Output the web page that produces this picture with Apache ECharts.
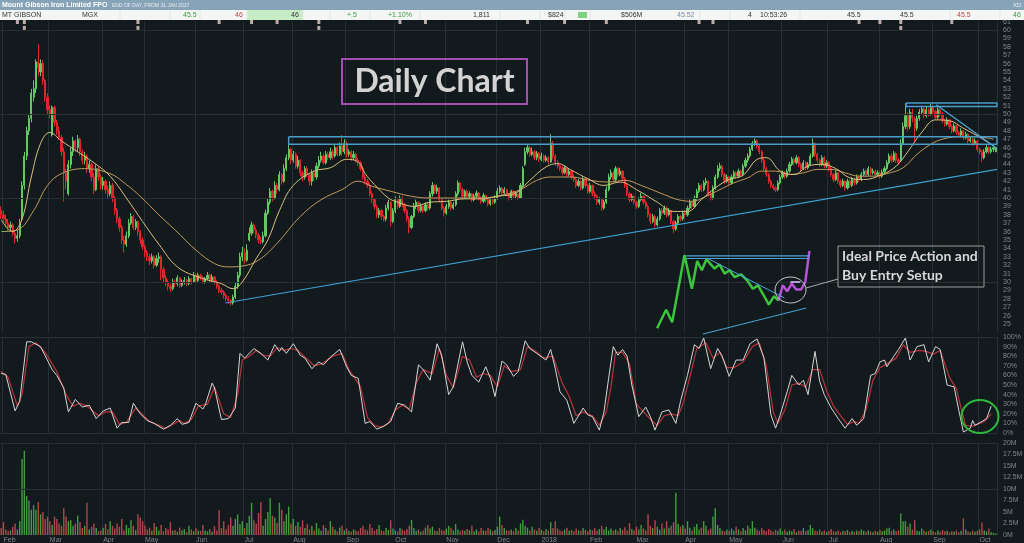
<!DOCTYPE html>
<html><head><meta charset="utf-8">
<script src="https://cdn.jsdelivr.net/npm/echarts@6/dist/echarts.min.js"></script>
<style>html,body{margin:0;padding:0;background:#131a1d;}#c{width:1024px;height:543px;}</style>
</head><body><div id="c"></div>
<script>
// ---------- axis / tick data ----------
const monthStarts = [1,21,44,62,84,105,126,149,170,192,214,233,254,274,295,314,337,357,379,402,422];
const monthLabels = ['Feb','Mar','Apr','May','Jun','Jul','Aug','Sep','Oct','Nov','Dec','2018','Feb','Mar','Apr','May','Jun','Jul','Aug','Sep','Oct'];
const priceGridLevels = [30,40,50,60];
const volumeGridLevels = [10,20];
const stochGridLevels = [0,100];

// ---------- daily candles [open, close, low, high] (cents) ----------
const candles = [
[38.5,38.0,37.5,39.0],[38.0,37.5,37.0,38.5],[37.5,37.0,36.5,38.0],[37.0,36.5,36.0,37.5],[36.5,36.8,36.0,37.2],[36.8,35.8,35.5,37.0],[35.8,35.2,34.6,36.0],[35.2,35.5,34.8,36.2],[35.5,37.0,35.2,37.5],[37.5,41.5,37.2,42.0],
[41.5,45.0,41.0,45.5],[45.0,48.0,44.5,48.5],[48.0,49.5,47.5,50.0],[49.5,52.5,49.0,53.0],[52.0,53.0,51.5,54.0],[53.0,56.2,52.5,56.5],[56.2,55.5,54.5,58.3],[55.0,56.0,54.5,56.5],[56.0,54.0,53.5,56.4],[54.0,52.0,51.5,54.2],
[52.0,50.5,50.0,52.5],[50.5,50.0,49.5,51.0],[47.5,50.8,47.3,51.0],[50.8,49.0,48.5,51.0],[49.0,48.0,47.5,49.3],[48.0,47.2,46.9,48.5],[47.2,45.5,45.0,47.5],[45.5,43.0,39.6,46.0],[43.0,42.0,41.0,43.5],[40.5,44.0,40.3,44.5],
[44.0,45.5,43.5,46.0],[45.5,46.8,45.0,47.3],[46.8,46.0,45.5,47.0],[46.0,47.0,45.5,47.5],[47.0,45.5,45.0,47.2],[45.5,44.5,44.0,45.8],[44.5,45.0,44.0,45.5],[45.0,43.5,43.0,45.2],[43.5,44.0,43.0,44.5],[44.0,42.5,42.0,44.2],
[42.5,41.0,40.5,43.0],[41.0,43.5,40.8,44.0],[43.5,42.5,42.0,43.8],[42.5,41.5,41.0,42.8],[41.5,42.0,41.0,42.5],[42.0,41.0,40.5,42.2],[41.0,40.5,40.0,41.5],[40.5,41.5,40.2,42.0],[41.5,40.0,39.5,41.8],[40.0,38.5,38.0,40.2],
[38.5,37.5,37.0,38.8],[37.5,36.5,36.0,37.8],[36.5,35.0,34.5,36.8],[35.0,34.5,33.5,35.5],[34.5,35.5,34.2,36.0],[35.5,37.0,35.2,37.5],[37.0,37.8,36.8,38.2],[37.8,36.5,36.2,38.0],[36.5,37.2,36.2,37.5],[37.2,36.0,35.5,37.3],
[36.0,35.0,34.5,36.2],[35.0,34.2,33.8,35.3],[34.2,33.5,33.0,34.5],[33.5,33.0,32.5,33.8],[33.0,32.5,32.0,33.3],[32.5,33.0,32.2,33.4],[33.0,32.0,31.6,33.2],[32.0,32.8,31.8,33.2],[32.8,33.0,32.3,33.5],[33.0,31.5,30.2,33.2],
[31.5,30.5,30.0,31.8],[30.5,30.0,29.5,30.8],[30.0,29.5,29.0,30.3],[29.5,29.2,28.8,29.8],[29.2,30.0,29.0,30.4],[30.0,29.8,29.4,30.3],[29.8,30.5,29.5,30.8],[30.5,29.6,29.3,30.6],[29.6,30.0,29.4,30.3],[30.0,30.2,29.7,30.6],
[30.2,29.8,29.5,30.4],[29.8,30.4,29.6,30.7],[30.4,30.0,29.7,30.5],[30.0,30.8,29.9,31.2],[30.8,30.2,30.0,31.0],[30.2,30.8,30.0,31.1],[30.8,30.5,30.2,31.0],[30.5,30.0,29.8,30.7],[30.0,30.4,29.8,30.6],[30.4,30.8,30.2,31.2],
[30.8,30.2,30.0,31.0],[30.2,30.6,30.0,30.9],[30.6,30.0,29.7,30.7],[30.0,29.5,29.2,30.2],[29.5,29.0,28.7,29.7],[29.0,28.8,28.5,29.3],[28.8,28.4,28.0,29.0],[28.4,28.0,27.7,28.6],[28.0,27.8,27.4,28.3],[27.8,27.5,27.2,28.0],
[27.5,28.2,27.3,28.5],[28.2,29.5,28.0,30.0],[29.5,30.8,29.2,31.2],[30.8,33.0,30.5,33.5],[33.0,33.5,32.5,34.2],[33.5,32.6,32.2,34.0],[32.6,33.8,32.4,34.5],[35.0,35.8,34.8,36.5],[35.8,36.8,35.5,37.2],[36.8,36.2,35.8,37.0],
[36.2,35.6,35.2,36.5],[35.6,35.0,34.6,35.8],[35.0,34.8,34.5,35.4],[34.8,35.5,34.6,36.0],[35.5,38.2,35.3,38.6],[38.2,39.5,38.0,40.0],[39.5,40.8,39.2,41.2],[40.8,40.0,39.6,41.0],[40.0,41.5,39.8,42.0],[41.5,41.0,40.5,41.8],
[41.0,42.8,40.8,43.2],[42.8,42.0,41.6,43.0],[42.0,43.5,41.8,44.0],[43.5,44.8,43.2,45.2],[44.8,45.8,44.5,46.5],[45.8,44.5,44.0,46.0],[44.5,45.2,44.2,45.6],[45.2,43.8,43.5,45.4],[43.8,44.5,43.5,45.0],[44.5,43.0,42.6,44.6],
[43.0,42.5,42.0,43.3],[42.5,43.5,42.2,43.8],[43.5,42.8,42.5,43.8],[42.8,42.0,41.5,43.0],[42.0,43.0,41.5,43.4],[43.0,42.5,42.0,43.3],[42.5,43.8,42.2,44.2],[43.8,44.5,43.5,45.0],[44.5,45.0,44.2,45.5],[45.0,44.2,44.0,45.3],
[44.2,45.2,44.0,45.6],[45.2,44.8,44.5,45.5],[44.8,45.5,44.5,46.0],[45.5,45.0,44.6,45.8],[45.0,46.0,44.8,46.4],[46.0,45.2,45.0,46.2],[45.2,46.2,45.0,46.6],[46.2,45.5,45.0,47.5],[45.5,46.5,45.2,47.0],[46.5,45.2,44.8,46.8],
[45.2,45.5,44.9,45.8],[45.5,44.8,44.4,45.7],[44.8,45.2,44.5,45.6],[45.2,44.5,44.2,45.4],[44.5,44.2,43.8,44.8],[44.2,43.5,43.2,44.4],[43.5,42.5,42.2,43.8],[42.5,42.0,41.6,42.8],[42.0,41.5,41.2,42.3],[41.5,40.5,40.2,41.8],
[40.5,39.8,39.4,40.8],[39.8,39.0,38.6,40.0],[39.0,38.0,37.6,39.2],[38.0,38.5,37.6,38.8],[38.5,37.8,37.4,38.7],[37.8,37.5,37.2,38.0],[37.5,38.8,37.2,39.2],[38.8,39.5,38.5,39.8],[39.5,37.2,36.6,39.6],[37.2,38.5,37.0,38.8],
[38.5,39.8,38.2,40.2],[39.8,39.0,38.7,40.0],[39.0,40.0,38.8,40.3],[40.0,39.2,38.9,40.2],[39.2,38.5,38.2,39.4],[38.5,37.5,37.2,38.7],[37.5,36.5,35.8,37.8],[36.5,37.8,36.3,38.0],[37.8,39.0,37.6,39.4],[39.0,39.5,38.7,39.8],
[39.5,38.5,38.2,39.6],[38.5,39.0,38.3,39.4],[39.0,38.5,38.2,39.2],[38.5,39.2,38.3,39.5],[39.2,38.8,38.5,39.4],[38.8,40.5,38.6,40.8],[40.5,41.5,40.2,41.9],[41.5,40.8,40.5,41.7],[40.8,41.2,40.5,41.6],[41.2,39.8,39.5,41.3],
[39.8,38.8,38.5,40.0],[38.8,38.2,37.8,39.0],[38.2,39.0,38.0,39.3],[39.0,39.5,38.7,39.8],[39.5,38.8,38.5,39.6],[38.8,39.2,38.6,39.5],[39.2,40.5,39.0,40.8],[40.5,41.8,40.2,42.1],[41.8,41.0,40.7,41.9],[41.0,40.2,39.9,41.2],
[40.2,40.8,40.0,41.0],[40.8,40.2,39.9,41.0],[40.2,40.5,40.0,40.8],[40.5,39.8,39.5,40.6],[39.8,40.2,39.6,40.5],[40.2,40.6,40.0,40.9],[40.6,40.0,39.7,40.7],[40.0,39.6,39.3,40.2],[39.6,40.3,39.4,40.6],[40.3,39.8,39.5,40.4],
[39.8,39.3,39.0,40.0],[39.3,39.8,39.1,40.1],[39.8,39.5,39.2,40.0],[39.5,40.0,39.3,40.3],[40.0,40.8,39.8,41.2],[40.8,41.2,40.5,41.5],[41.2,40.6,40.3,41.3],[40.6,41.0,40.4,41.3],[41.0,40.5,40.2,41.1],[40.5,40.0,39.7,40.6],
[40.0,40.8,39.8,41.0],[40.8,40.2,40.0,40.9],[40.2,40.5,40.0,40.8],[40.5,40.0,39.8,40.6],[40.0,41.5,39.9,41.8],[41.5,43.5,41.3,43.8],[44.0,45.5,43.8,46.0],[45.5,46.0,45.2,46.3],[46.0,45.2,44.9,46.2],[45.2,45.5,45.0,46.0],
[45.5,44.8,44.5,45.7],[44.8,45.3,44.5,45.6],[45.3,44.6,44.3,45.5],[44.6,45.0,44.4,45.4],[45.0,44.5,44.2,45.2],[44.5,44.8,44.3,45.1],[44.8,44.3,44.0,45.0],[44.3,46.5,44.2,47.6],[46.5,45.0,44.6,46.8],[45.0,44.2,43.8,45.2],
[44.2,43.8,43.5,44.5],[43.8,43.5,43.2,44.0],[43.5,43.0,42.7,43.8],[43.0,43.6,42.8,43.9],[43.6,42.8,42.5,43.7],[42.8,43.2,42.6,43.5],[43.2,42.5,42.2,43.3],[42.5,42.2,41.9,42.8],[42.2,41.5,41.2,42.4],[41.5,42.0,41.3,42.3],
[42.0,41.2,40.9,42.1],[41.2,42.3,41.0,42.6],[42.3,41.5,41.2,42.4],[41.5,40.8,40.5,41.7],[40.8,41.5,40.6,41.8],[41.5,40.5,40.2,41.6],[40.5,40.2,39.8,40.8],[40.2,39.5,39.2,40.4],[39.5,39.8,39.2,40.1],[39.8,38.8,38.5,40.0],
[38.8,39.5,38.6,39.8],[39.5,41.0,39.3,41.4],[41.0,42.5,40.8,42.9],[42.5,43.0,42.2,43.4],[43.0,42.2,41.9,43.2],[42.2,43.5,42.0,43.8],[43.5,42.8,42.5,43.7],[42.8,43.2,42.6,43.6],[43.2,42.3,42.0,43.3],[42.3,41.5,41.2,42.5],
[41.5,40.5,40.2,41.7],[40.5,39.8,39.5,40.7],[39.8,40.2,39.6,40.5],[40.2,39.5,39.2,40.3],[39.5,39.0,38.7,39.7],[39.0,39.8,38.8,40.1],[39.8,40.2,39.6,40.6],[40.2,39.5,39.2,40.3],[39.5,39.0,38.7,39.7],[39.0,38.0,37.7,39.2],
[38.0,37.2,36.9,38.2],[37.2,37.8,37.0,38.1],[37.8,36.8,36.5,38.0],[36.8,37.5,36.6,37.8],[37.5,38.5,37.3,38.8],[38.5,38.2,37.9,38.8],[38.2,38.8,38.0,39.1],[38.8,38.0,37.7,39.0],[38.0,38.5,37.8,38.8],[38.5,37.2,36.9,38.6],
[37.2,36.3,35.8,37.4],[36.3,37.0,36.1,37.3],[37.0,37.8,36.8,38.1],[37.8,37.5,37.2,38.0],[37.5,38.2,37.3,38.5],[38.2,38.0,37.7,38.5],[38.0,38.8,37.8,39.1],[38.8,39.5,38.6,39.8],[39.5,39.0,38.7,39.7],[39.0,40.0,38.8,40.3],
[40.0,40.8,39.8,41.1],[40.8,41.5,40.6,41.8],[41.5,41.0,40.7,41.7],[41.0,41.8,40.8,42.1],[41.8,42.0,41.5,42.4],[42.0,40.5,40.2,42.1],[40.5,40.0,39.7,40.7],[40.0,41.2,39.8,41.5],[41.2,42.5,41.0,42.8],[42.5,43.5,42.3,43.9],
[43.5,43.8,43.2,44.2],[43.8,42.8,42.5,44.0],[42.8,42.0,41.7,43.0],[42.0,42.5,41.8,42.8],[42.5,41.8,41.5,42.6],[41.8,42.5,41.6,42.8],[42.5,43.0,42.3,43.3],[43.0,42.6,42.3,43.2],[42.6,43.2,42.4,43.5],[43.2,42.8,42.5,43.4],
[42.8,43.8,42.6,44.1],[43.8,44.5,43.6,44.8],[44.5,45.0,44.2,45.3],[45.0,45.8,44.8,46.1],[45.8,46.5,45.6,46.8],[46.5,46.8,46.2,47.1],[46.8,46.2,45.9,47.0],[46.2,45.5,45.2,46.4],[45.5,44.5,44.2,45.7],[44.5,43.5,43.2,44.7],
[43.5,42.8,42.5,43.7],[42.8,42.0,41.7,43.0],[42.0,41.5,41.2,42.2],[41.5,41.2,40.9,41.7],[41.2,41.0,40.7,41.4],[41.0,41.8,40.8,42.1],[41.8,42.5,41.6,42.8],[42.5,43.0,42.3,43.3],[43.0,42.6,42.3,43.2],[42.6,43.2,42.4,43.5],
[43.2,44.0,43.0,44.3],[44.0,44.6,43.8,44.9],[44.6,44.2,43.9,44.8],[44.2,44.8,44.0,45.1],[44.8,44.0,43.7,45.0],[44.0,43.5,43.2,44.2],[43.5,44.2,43.3,44.5],[44.2,43.6,43.3,44.4],[43.6,44.0,43.4,44.3],[44.0,45.0,43.8,45.3],
[45.0,46.5,44.8,47.1],[46.5,45.2,44.9,46.6],[45.2,44.5,44.2,45.4],[44.5,44.0,43.7,44.7],[44.0,44.8,43.8,45.1],[44.8,43.8,43.5,45.0],[43.8,44.2,43.6,44.5],[44.2,43.5,43.2,44.4],[43.5,42.8,42.5,43.7],[42.8,42.2,41.9,43.0],
[42.2,43.0,42.0,43.3],[43.0,42.0,41.7,43.1],[42.0,41.5,41.2,42.2],[41.5,42.0,41.3,42.3],[42.0,41.2,40.9,42.1],[41.2,42.0,41.0,42.3],[42.0,41.5,41.2,42.2],[41.5,42.2,41.3,42.5],[42.2,41.8,41.5,42.4],[41.8,42.5,41.6,42.8],
[42.5,42.2,41.9,42.7],[42.2,42.8,42.0,43.1],[42.8,43.2,42.6,43.5],[43.2,42.8,42.5,43.4],[42.8,43.5,42.6,43.8],[43.5,43.0,42.7,43.7],[43.0,43.2,42.8,43.5],[43.2,42.8,42.5,43.4],[42.8,43.0,42.6,43.3],[43.0,42.6,42.3,43.2],
[42.6,43.1,42.4,43.4],[43.1,43.5,42.9,43.8],[43.5,44.2,43.3,44.5],[44.2,45.0,44.0,45.3],[45.0,44.5,44.2,45.3],[44.5,45.3,44.3,45.6],[45.3,44.5,44.2,45.5],[44.5,44.2,43.9,44.8],[44.5,46.5,44.3,47.0],[46.5,48.5,46.3,49.0],
[48.5,49.8,48.2,51.3],[49.8,48.5,48.0,50.2],[48.5,50.2,48.2,50.6],[50.2,49.5,49.0,50.6],[49.5,48.3,46.8,49.7],[48.3,49.5,48.0,49.8],[49.5,50.2,49.2,50.6],[50.2,50.6,49.9,51.0],[50.6,49.8,49.5,50.8],[49.8,50.5,49.6,50.9],
[50.5,50.0,49.7,50.7],[50.0,50.8,49.8,51.2],[50.8,50.3,50.0,51.0],[50.3,49.6,49.3,50.5],[49.6,50.5,49.4,50.8],[50.5,50.0,49.7,50.7],[50.0,49.2,48.9,50.2],[49.2,48.8,48.5,49.4],[48.8,49.3,48.6,49.6],[49.3,48.5,48.2,49.4],
[48.5,48.0,47.7,48.7],[48.0,48.6,47.8,48.9],[48.6,47.8,47.5,48.7],[47.8,47.5,47.2,48.0],[47.5,48.0,47.3,48.3],[48.0,47.2,46.9,48.1],[47.2,47.6,47.0,47.9],[47.6,46.8,46.5,47.7],[46.8,47.0,46.6,47.3],[47.0,46.5,46.2,47.1],
[46.5,46.8,46.3,47.1],[46.8,45.8,45.5,46.9],[45.8,45.5,45.2,46.0],[45.5,44.8,44.3,45.7],[44.8,45.5,44.6,45.8],[45.5,46.0,45.3,46.3],[46.0,45.5,45.2,46.2],[45.5,45.8,45.3,46.1],[45.8,46.0,45.5,46.3],[45.5,46.0,45.5,46.0]
];

// ---------- daily volume (millions) ----------
const volumes = [
1.5,2.8,1.2,0.8,1.0,1.8,2.5,1.2,3.0,16.5,
18.3,8.5,7.5,5.5,6.5,5.5,7.2,4.5,5.0,3.5,
4.0,3.0,2.2,4.0,3.5,2.5,2.0,5.8,4.0,3.0,
3.2,2.0,2.5,4.2,2.8,1.5,2.0,7.0,1.2,1.8,
2.5,1.5,0.8,1.0,1.6,2.4,1.2,3.0,2.0,1.4,
2.5,1.8,3.5,1.0,2.2,1.5,3.2,2.0,1.1,4.5,
3.8,3.0,2.0,1.2,1.6,0.9,2.6,1.8,1.0,2.2,
0.8,1.5,1.2,2.8,0.9,1.1,0.7,1.6,1.0,1.3,
0.6,2.0,1.2,0.8,1.5,1.0,0.9,2.2,1.0,0.8,
1.3,0.7,1.9,1.0,5.4,1.5,3.0,1.2,2.2,3.8,
2.0,3.5,4.5,2.4,3.0,1.5,2.6,4.2,7.0,3.2,
2.5,4.8,7.2,2.0,3.5,5.0,8.0,4.2,3.8,2.6,
7.0,5.5,3.0,4.5,6.2,2.5,3.5,2.0,2.8,1.8,
3.2,1.5,2.4,1.2,2.0,1.0,2.6,1.4,0.9,2.2,
1.5,1.0,3.0,1.8,1.2,0.8,1.6,2.0,1.0,1.4,
0.9,0.7,1.2,1.0,0.8,1.5,2.0,1.2,1.0,2.4,
1.6,0.9,1.3,2.2,1.0,0.8,1.5,1.1,3.2,1.4,
1.0,0.8,1.6,1.2,0.9,1.3,2.0,3.3,1.5,0.9,
1.2,0.7,1.0,1.6,2.2,1.4,1.8,1.0,0.8,1.5,
1.1,0.9,1.4,2.0,1.6,1.0,2.4,1.2,0.8,1.1,
0.9,1.3,1.0,2.0,0.8,1.2,0.7,1.5,1.0,0.9,
1.6,1.2,0.8,1.1,1.8,4.0,2.2,1.5,1.0,0.9,
1.2,0.8,1.5,1.0,2.5,3.3,2.0,1.6,1.0,1.8,
1.2,0.9,1.6,1.1,0.8,1.3,1.0,2.8,1.5,3.0,
1.4,1.0,0.8,1.2,1.6,0.9,1.1,0.8,1.4,1.0,
0.9,1.5,1.1,0.8,1.2,1.0,1.6,0.9,1.3,2.0,
1.2,1.8,1.0,1.4,0.9,1.2,0.8,1.5,1.1,1.7,
1.0,2.6,1.3,1.0,1.8,1.2,2.2,1.4,1.0,4.5,
2.0,1.5,3.2,1.8,1.2,2.5,1.4,3.0,1.6,2.0,
2.8,9.2,2.4,1.8,2.2,1.4,3.0,1.6,1.0,1.8,
2.4,1.2,1.6,3.0,2.0,1.0,1.4,4.0,5.8,2.2,
1.5,1.0,0.8,1.2,0.9,1.4,1.0,1.8,1.2,0.8,
1.5,1.0,2.0,1.4,3.0,1.6,1.2,0.9,1.5,1.1,
0.8,1.3,1.0,0.7,1.1,0.9,1.4,0.8,1.2,0.7,
1.0,0.8,1.3,0.6,1.0,0.9,1.5,0.8,1.1,2.2,
1.5,1.0,0.8,1.2,0.7,1.0,0.6,0.9,1.3,0.8,
0.7,1.0,0.6,0.9,0.8,1.1,0.6,0.9,0.7,1.0,
0.8,1.2,0.9,0.7,1.0,0.8,0.6,0.9,0.7,1.1,
0.8,1.0,1.4,1.6,0.9,1.2,0.8,1.0,4.7,3.0,
3.0,1.8,2.5,1.2,3.2,1.0,0.8,1.4,1.0,0.7,
0.9,1.2,0.8,0.6,1.0,0.7,1.1,0.8,0.9,0.6,
0.8,0.7,1.0,0.6,0.9,3.6,1.2,0.8,0.6,1.0,
0.7,0.9,1.2,2.7,1.0,0.8,1.4,0.6,0.5,0.3
];

// ---------- moving averages [barIndex, price] ----------
const maFast = [[0,37.4],[5,36.0],[9,37.5],[13,42.5],[17,46.5],[21,47.8],[26,46.8],[33,45.5],[40,44.2],[47,42.6],[54,40.0],[61,37.2],[68,34.5],[76,31.8],[86,30.5],[95,29.8],[100,29.2],[104,30.0],[110,32.8],[115,35.0],[120,38.5],[126,41.5],[135,43.2],[142,43.6],[149,44.6],[154,44.3],[157,42.9],[161,41.6],[167,40.0],[171,39.5],[178,39.0],[185,39.5],[192,39.6],[200,39.9],[207,39.9],[214,40.2],[222,40.6],[228,42.1],[235,43.7],[240,44.1],[246,43.3],[253,42.3],[260,41.5],[267,41.9],[274,41.0],[283,39.5],[290,38.4],[296,38.4],[302,39.8],[308,41.2],[314,42.2],[320,42.7],[326,44.6],[330,44.8],[336,43.2],[342,42.8],[348,43.8],[354,44.0],[360,43.5],[366,42.4],[372,42.2],[380,42.8],[386,43.8],[391,45.5],[397,47.8],[403,49.3],[409,49.2],[415,48.3],[421,47.4],[428,46.2]];
const maSlow = [[0,36.0],[7,36.2],[14,38.5],[20,41.5],[26,42.9],[36,43.5],[47,42.9],[54,41.6],[60,40.2],[68,38.0],[75,36.2],[84,33.8],[92,32.2],[98,31.8],[104,31.9],[111,32.6],[119,34.6],[129,37.8],[138,39.8],[147,41.0],[154,42.0],[160,41.4],[168,40.8],[177,40.2],[185,40.0],[197,40.0],[207,40.0],[217,40.4],[224,41.0],[231,42.1],[237,42.5],[246,42.5],[254,42.1],[262,41.9],[269,42.1],[276,41.5],[286,40.4],[292,39.8],[298,39.6],[304,40.2],[310,41.0],[316,41.8],[322,42.4],[328,43.2],[334,43.2],[340,42.8],[346,43.0],[352,43.4],[358,43.4],[364,43.0],[370,42.6],[376,42.6],[382,42.9],[389,43.6],[395,45.2],[401,46.4],[406,47.0],[413,47.3],[420,47.3],[428,47.0]];

// ---------- stochastic %K and %D [barIndex, percent] ----------
const stochK = [[0,62],[2,61],[6,23],[8,33],[11,95],[13,95],[17,90],[22,66],[24,60],[27,47],[29,22],[32,35],[35,27],[38,29],[41,15],[44,23],[47,26],[50,5],[52,11],[55,11],[57,31],[60,20],[63,13],[66,10],[70,4],[73,8],[76,15],[78,9],[81,11],[84,31],[87,25],[88,29],[91,52],[92,47],[95,14],[98,15],[101,26],[103,83],[105,78],[109,88],[112,83],[115,76],[118,92],[120,85],[121,89],[123,83],[126,93],[129,81],[131,78],[134,67],[137,74],[139,71],[142,79],[146,87],[149,69],[151,60],[154,57],[157,10],[159,12],[162,4],[165,7],[168,12],[171,31],[174,29],[177,22],[180,71],[182,66],[185,55],[188,93],[190,81],[193,40],[195,48],[199,95],[201,74],[203,60],[206,53],[209,69],[211,57],[213,38],[216,75],[218,71],[221,59],[223,64],[226,96],[228,88],[231,83],[235,76],[237,87],[239,67],[241,43],[244,34],[247,10],[251,26],[253,19],[255,17],[258,3],[260,22],[262,57],[264,90],[266,81],[268,87],[270,80],[272,50],[275,17],[278,27],[280,17],[282,3],[285,22],[288,24],[291,10],[293,33],[296,60],[299,92],[301,88],[303,99],[306,67],[309,88],[311,80],[314,59],[317,76],[320,76],[323,93],[326,98],[329,78],[332,19],[334,5],[336,19],[339,43],[341,60],[344,50],[346,55],[348,40],[351,85],[353,54],[355,40],[358,26],[361,15],[364,5],[367,15],[369,8],[372,15],[375,60],[377,62],[379,74],[381,76],[382,69],[385,80],[387,87],[390,99],[392,76],[395,90],[398,92],[400,74],[403,90],[405,87],[408,50],[411,48],[413,24],[415,1],[418,5],[419,13],[420,8],[423,12],[425,15],[427,28]];
const stochD = [[0,64],[3,58],[7,28],[9,40],[12,90],[15,94],[19,84],[24,64],[28,40],[31,28],[34,31],[37,28],[42,18],[45,22],[48,22],[51,9],[54,11],[58,26],[61,19],[64,12],[67,9],[71,5],[74,9],[77,13],[79,10],[82,14],[85,28],[89,30],[92,48],[96,20],[99,16],[102,40],[104,76],[107,80],[110,86],[113,81],[116,80],[119,89],[122,86],[125,88],[128,86],[132,77],[135,70],[138,72],[143,80],[147,83],[150,66],[155,48],[158,16],[161,8],[164,6],[167,10],[170,24],[173,29],[176,25],[179,52],[182,66],[186,62],[189,88],[192,60],[195,47],[199,80],[202,76],[205,58],[208,62],[211,60],[214,48],[217,70],[220,64],[224,66],[227,90],[230,86],[234,78],[238,80],[242,52],[245,38],[248,18],[251,22],[255,18],[258,8],[261,22],[263,48],[265,84],[268,84],[271,72],[274,30],[277,22],[281,12],[283,8],[286,18],[289,20],[292,18],[294,30],[297,58],[300,88],[304,94],[307,78],[310,84],[313,68],[316,68],[320,74],[324,90],[327,94],[330,70],[333,22],[335,10],[338,24],[341,50],[344,52],[347,48],[350,66],[353,66],[356,44],[359,28],[362,18],[365,9],[368,12],[370,10],[373,24],[376,55],[379,68],[382,72],[386,78],[389,92],[392,84],[396,86],[399,85],[402,82],[405,86],[409,58],[412,46],[414,26],[416,8],[419,7],[421,9],[424,12],[427,20]];

// ---------- drawn trend lines / annotation sketch [barIndex, price] ----------
const trendRising = [[96.6,27.5],[429.5,43.4]];
const resistanceBox = [[124,47.3],[429.5,47.3],[429.5,46.4],[124,46.4],[124,47.3]];
const upperBox = [[390.3,51.3],[429.5,51.3],[429.5,50.9],[390.3,50.9],[390.3,51.3]];
const trendFalling = [[403.3,51.1],[429.5,45.9]];
const sketchGreen = [[282.9,24.5],[286.8,26.7],[289.4,25.2],[294.7,33.2],[297.9,29.2],[300.2,32.5],[302.2,31.4],[304.2,32.7],[307.7,31.6],[309.8,32.1],[312.0,31.0],[314.1,31.4],[316.3,30.6],[319.2,30.9],[321.7,30.2],[324.2,29.2],[326.4,29.6],[328.5,28.6],[331.1,27.3],[333.3,28.3],[335.3,27.8]];
const sketchPurple = [[335.3,27.8],[337.1,29.6],[339.0,28.9],[341.0,29.8],[342.9,29.1],[345.0,29.1],[346.8,30.0],[348.6,33.7]];
const sketchLilac = [[340.4,30.0],[344.7,30.0]];
const sketchTop1 = [[295.4,33.1],[348.6,33.1]];
const sketchTop2 = [[295.4,32.8],[348.6,32.8]];
const sketchFalling = [[304.8,32.8],[337.8,28.1]];
const sketchLower = [[302.6,23.8],[347.2,26.9]];

// ---------- announcement markers (bar index) ----------
const eventsRow1 = [7,10,59,94,108,119,137,172,183,227,243,261,301,307,370,379,388,410];
const eventsRow2 = [10,59,137,388];

// ---------- header quote row ----------
const quoteCells = [
  {t:'MT GIBSON',x:2,c:'#333'},{t:'MGX',x:82,c:'#333'},{t:'45.5',x:183,c:'#3c9a3c'},{t:'46',x:235,c:'#c04545'},
  {t:'46',x:291,c:'#333'},{t:'+.5',x:347,c:'#3c9a3c'},{t:'+1.10%',x:388,c:'#3c9a3c'},{t:'1,811',x:473,c:'#333'},
  {t:'$824',x:548,c:'#333'},{t:'$506M',x:621,c:'#333'},{t:'45.52',x:677,c:'#7a8fa0'},{t:'4',x:748,c:'#333'},
  {t:'10:53:26',x:760,c:'#333'},{t:'45.5',x:847,c:'#333'},{t:'45.5',x:900,c:'#333'},{t:'45.5',x:957,c:'#c04545'},{t:'46',x:1013,c:'#3c9a3c'}
];
const quoteSeps = [40,120,170,200,247,303,330,370,420,500,540,565,590,634,700,730,800,950,1000];

// ================= build =================
const N = candles.length;
const cats = candles.map((_, i) => String(i));
const UP = '#62c862', DOWN = '#e0262b';
const isMonth = (i) => monthStarts.indexOf(i) >= 0;
const gridCol = '#263034';
const axisTxt = {color:'#7f888d', fontSize:7, fontFamily:'Liberation Sans'};

const volData = volumes.map((v, i) => ({
  value: v,
  itemStyle: {color: candles[i][1] >= candles[i][0] ? '#3f9d3f' : '#b3474a'}
}));

function catAxis(gridIndex, showLabels) {
  return {
    type:'category', gridIndex, data: cats, boundaryGap:true,
    axisLine:{show:false}, axisTick:{show:false},
    axisLabel: showLabels ? {
      show:true, interval:(i)=>isMonth(i), align:'left', margin:2,
      formatter:(v, i)=>monthLabels[monthStarts.indexOf(Number(v))] || '',
      ...axisTxt
    } : {show:false},
    splitLine:{show:true, interval:(i)=>isMonth(i), lineStyle:{color:gridCol, width:1}}
  };
}
function valXAxis(gridIndex) {
  return {type:'value', gridIndex, min:-0.5, max:N-0.5, show:false, splitLine:{show:false}};
}
function lineSeries(data, color, width, extra) {
  return Object.assign({type:'line', xAxisIndex:1, yAxisIndex:0, data, symbol:'none', silent:true,
    lineStyle:{color, width}, z:5, animation:false}, extra || {});
}
function hLines(levels) {
  return {silent:true, symbol:'none', label:{show:false},
    lineStyle:{color:gridCol, width:1, type:'solid'},
    data: levels.map(v => ({yAxis: v}))};
}

const graphics = [
  {type:'rect', shape:{x:0,y:0,width:1024,height:10}, style:{fill:'#87a3b8'}, z:100},
  {type:'text', style:{text:'Mount Gibson Iron Limited FPO', x:2, y:5, fill:'#ffffff', font:'bold 7px "Liberation Sans"', textVerticalAlign:'middle'}, z:101},
  {type:'text', style:{text:'END OF DAY, FROM 31 JAN 2017', x:112, y:5.5, fill:'#e8eef2', font:'5px "Liberation Sans"', textVerticalAlign:'middle'}, z:101},
  {type:'text', style:{text:'XD', x:1013, y:5, fill:'#e8eef2', font:'6px "Liberation Sans"', textVerticalAlign:'middle'}, z:101},
  {type:'rect', shape:{x:0,y:10,width:1024,height:10}, style:{fill:'#f4f6f6'}, z:100},
  {type:'rect', shape:{x:247,y:10,width:56,height:10}, style:{fill:'#c7edc7'}, z:100},
  {type:'rect', shape:{x:578,y:12,width:9,height:6}, style:{fill:'#7fd07f'}, z:101},
  // Daily Chart box
  {type:'rect', shape:{x:342,y:59,width:185,height:45}, style:{fill:'none', stroke:'#a24fb4', lineWidth:2}, z:100},
  {type:'text', style:{text:'Daily Chart', x:434.5, y:82, fill:'#d3d3d3', font:'bold 32px Lato', textAlign:'center', textVerticalAlign:'middle'}, z:101},
  // Ideal setup box
  {type:'rect', shape:{x:838,y:246,width:146,height:41}, style:{fill:'none', stroke:'#9c9c9c', lineWidth:1}, z:100},
  {type:'text', style:{text:'Ideal Price Action and', x:842, y:256, fill:'#d6d6d6', font:'bold 14px Lato', textVerticalAlign:'middle'}, z:101},
  {type:'text', style:{text:'Buy Entry Setup', x:842, y:275, fill:'#d6d6d6', font:'bold 14px Lato', textVerticalAlign:'middle'}, z:101},
  {type:'line', shape:{x1:806,y1:288,x2:838,y2:279}, style:{stroke:'#aaaaaa', lineWidth:1}, z:100},
  {type:'ellipse', shape:{cx:790.5,cy:290,rx:15.5,ry:13}, style:{fill:'none', stroke:'#c8c8c8', lineWidth:1}, z:100},
  {type:'ellipse', shape:{cx:980,cy:416.5,rx:18.5,ry:16.5}, style:{fill:'none', stroke:'#2db83a', lineWidth:2}, z:100}
];
quoteSeps.forEach(x => graphics.push({type:'line', shape:{x1:x,y1:10,x2:x,y2:20}, style:{stroke:'#e2e6e6', lineWidth:1}, z:100}));
quoteCells.forEach(q => graphics.push({type:'text', style:{text:q.t, x:q.x, y:15.5, fill:q.c, font:'7px "Liberation Sans"', textVerticalAlign:'middle'}, z:101}));

const chart = echarts.init(document.getElementById('c'), null, {renderer:'canvas'});
chart.setOption({
  animation:false,
  backgroundColor:'#131a1d',
  grid:[
    {left:0, right:27, top:21.6, height:310.8, outerBoundsMode:'none'},
    {left:0, right:27, top:337, height:96, outerBoundsMode:'none'},
    {left:0, right:27, top:443, height:92, outerBoundsMode:'none'}
  ],
  xAxis:[ catAxis(0,false), valXAxis(0), catAxis(1,false), valXAxis(1), catAxis(2,true) ],
  yAxis:[
    {type:'value', gridIndex:0, position:'right', min:24, max:61, interval:1,
      axisLine:{show:false}, axisTick:{show:false}, splitLine:{show:false},
      axisLabel:{...axisTxt, margin:6, formatter:v => v === 24 ? '' : String(v)}},
    {type:'value', gridIndex:1, position:'right', min:0, max:100, interval:10,
      axisLine:{show:false}, axisTick:{show:false}, splitLine:{show:false},
      axisLabel:{...axisTxt, margin:6, formatter:v => v + '%'}},
    {type:'value', gridIndex:2, position:'right', min:0, max:20, interval:2.5,
      axisLine:{show:false}, axisTick:{show:false}, splitLine:{show:false},
      axisLabel:{...axisTxt, margin:6, formatter:v => v + 'M'}}
  ],
  series:[
    {type:'candlestick', xAxisIndex:0, yAxisIndex:0, data:candles, barWidth:1.7, silent:true,
      itemStyle:{color:UP, color0:DOWN, borderColor:UP, borderColor0:DOWN, borderWidth:1},
      markLine: hLines(priceGridLevels), z:3},
    lineSeries(maSlow, '#c39a5c', 1, {smooth:0.4}),
    lineSeries(maFast, '#dcc07e', 1, {smooth:0.4}),
    lineSeries(trendRising, '#3d9fd4', 1.2),
    lineSeries(resistanceBox, '#4a9cc9', 1.5),
    lineSeries(upperBox, '#4a9cc9', 1.5),
    lineSeries(trendFalling, '#4aa6d8', 1.2),
    lineSeries(sketchGreen, '#3cc43c', 2.5, {z:8}),
    lineSeries(sketchPurple, '#b552d6', 2.5, {z:8}),
    lineSeries(sketchLilac, '#b99bd4', 2, {z:8}),
    lineSeries(sketchTop1, '#4aa6d8', 1.2, {z:8}),
    lineSeries(sketchTop2, '#4aa6d8', 1, {z:8}),
    lineSeries(sketchFalling, '#4aa6d8', 1, {z:8}),
    lineSeries(sketchLower, '#4aa6d8', 1, {z:8, clip:false}),
    {type:'scatter', xAxisIndex:1, yAxisIndex:0, silent:true, symbol:'rect', symbolSize:[3,4],
      itemStyle:{color:'#ead0d0'}, data: eventsRow1.map(i => [i, 60.95]), clip:false},
    {type:'scatter', xAxisIndex:1, yAxisIndex:0, silent:true, symbol:'rect', symbolSize:[3,4],
      itemStyle:{color:'#ead0d0'}, data: eventsRow2.map(i => [i, 60.25]), clip:false},
    {type:'line', xAxisIndex:3, yAxisIndex:1, data:stochD, symbol:'none', silent:true,
      lineStyle:{color:'#b8343a', width:1.2}, z:3, markLine: hLines(stochGridLevels)},
    {type:'line', xAxisIndex:3, yAxisIndex:1, data:stochK, symbol:'none', silent:true,
      lineStyle:{color:'#d6d6d6', width:1}, z:4},
    {type:'bar', xAxisIndex:4, yAxisIndex:2, data:volData, barWidth:1.4, silent:true,
      markLine: hLines(volumeGridLevels)}
  ],
  graphic: graphics
});
</script>
</body></html>
